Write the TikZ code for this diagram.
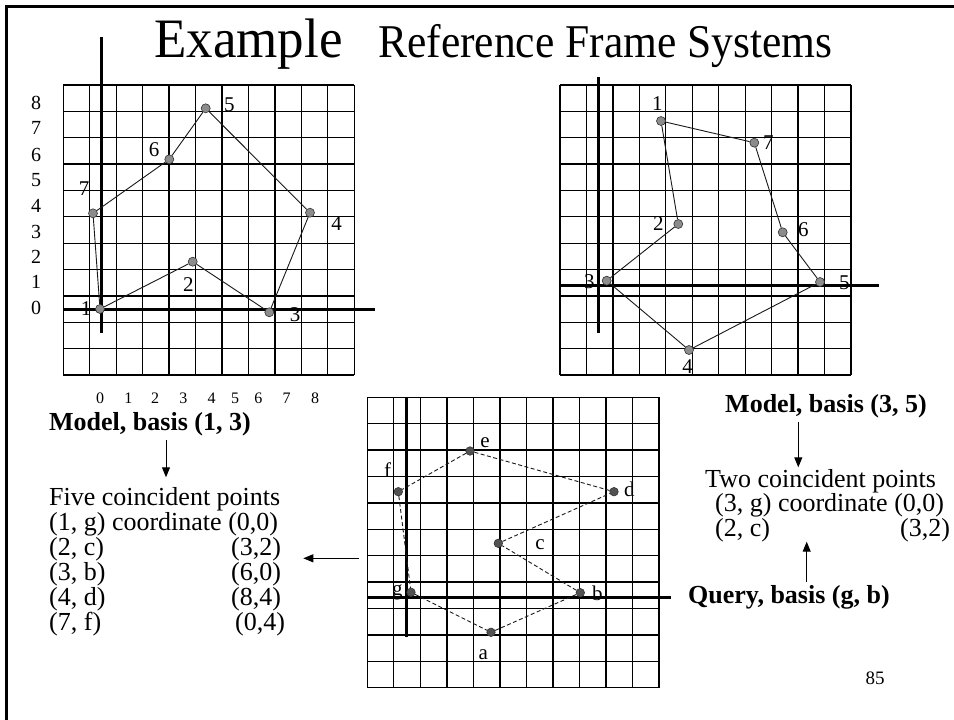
\documentclass[tikz,border=0pt]{standalone}
\usepackage{fontspec}
\setmainfont{Liberation Serif}
\usetikzlibrary{arrows.meta}
\begin{document}
\begin{tikzpicture}[x=1pt,y=-1pt,
  gridline/.style={black, line width=1.3pt},
  axisline/.style={black, line width=3pt},
  framebox/.style={black, line width=3pt},
  mpt/.style={circle, draw=black!80, fill=black!45, inner sep=0pt, minimum size=9pt, line width=0.6pt},
  qpt/.style={circle, draw=black!80, fill=black!68, inner sep=0pt, minimum size=8.5pt, line width=0.6pt},
  medge/.style={black!90, line width=0.9pt},
  qedge/.style={black!90, line width=0.9pt, dash pattern=on 4pt off 2.5pt},
  plbl/.style={font=\fontsize{21}{22}\selectfont, inner sep=0pt},
  ylbl/.style={font=\fontsize{20}{22}\selectfont, inner sep=0pt},
  xlbl/.style={font=\fontsize{16}{18}\selectfont, inner sep=0pt},
  txt/.style={font=\fontsize{26}{30}\selectfont, inner sep=0pt, anchor=base west},
  btxt/.style={font=\fontsize{26}{30}\selectfont\bfseries, inner sep=0pt, anchor=base west},
  arr/.style={black, line width=1pt, -{Triangle[length=10pt,width=8pt]}}]

\clip (0,0) rectangle (954,720);
\fill[white] (0,0) rectangle (954,720);

% frame
\draw[framebox] (6.5,730) -- (6.5,6.5) -- (960,6.5);

% title
\node[font=\fontsize{53}{60}\selectfont, inner sep=0pt, anchor=base west, yscale=1.05, transform shape] (t1) at (154,57) {Example};
\node[font=\fontsize{43.5}{50}\selectfont, inner sep=0pt, anchor=base west, yscale=1.08, transform shape] (t2) at (378,57) {Reference Frame Systems};

% ---------- grids ----------
\foreach \i in {0,...,11} {
  \draw[gridline] ({63.3+\i*26.45},85) -- ({63.3+\i*26.45},375);
  \draw[gridline] (63.3,{85+\i*26.36}) -- (354.3,{85+\i*26.36});
  \draw[gridline] ({560+\i*26.45},85) -- ({560+\i*26.45},375);
  \draw[gridline] (560,{85+\i*26.36}) -- (851,{85+\i*26.36});
  \draw[gridline] ({367.3+\i*26.52},397.3) -- ({367.3+\i*26.52},687.7);
  \draw[gridline] (367.3,{397.3+\i*26.4}) -- (659,{397.3+\i*26.4});
}

% axes
\draw[axisline] (101.7,37) -- (101.7,333);
\draw[axisline] (63,309) -- (375,309);
\draw[axisline] (598.3,77) -- (598.3,333);
\draw[axisline] (559.3,285) -- (879,285);
\draw[axisline] (406,397.3) -- (406,636.7);
\draw[axisline] (366.7,597.7) -- (670.7,597.7);

% axis numbers (model 1)
\foreach \v/\y in {8/102.7,7/128.3,6/155,5/180,4/206,3/231.7,2/256.7,1/281.7,0/308.3}
  \node[ylbl] (y\v) at (36,\y) {\v};
\foreach \v/\x in {0/100,1/128.3,2/155,3/183.3,4/211.7,5/235,6/258.3,7/286.7,8/315}
  \node[xlbl] (x\v) at (\x,398.3) {\v};

% ---------- model basis (1,3) ----------
\node[mpt] (p1) at (100,309) {};
\node[mpt] (p2) at (192.7,261.7) {};
\node[mpt] (p3) at (269.3,312.3) {};
\node[mpt] (p4) at (310,212.7) {};
\node[mpt] (p5) at (205.7,108.3) {};
\node[mpt] (p6) at (169.3,159.3) {};
\node[mpt] (p7) at (93,213.3) {};
\draw[medge] (p1) -- (p2);
\draw[medge] (p2) -- (p3);
\draw[medge] (p3) -- (p4);
\draw[medge] (p4) -- (p5);
\draw[medge] (p5) -- (p6);
\draw[medge] (p6) -- (p7);
\draw[medge] (p7) -- (p1);
\node[plbl] (lp1) at (86,308.3) {1};
\node[plbl] (lp2) at (188.3,284.3) {2};
\node[plbl] (lp3) at (295,315) {3};
\node[plbl] (lp4) at (336.7,223.3) {4};
\node[plbl] (lp5) at (229.3,105) {5};
\node[plbl] (lp6) at (154,150) {6};
\node[plbl] (lp7) at (84,188.3) {7};

% ---------- model basis (3,5) ----------
\node[mpt] (q1) at (661,121) {};
\node[mpt] (q2) at (678.3,224) {};
\node[mpt] (q3) at (606.7,280.7) {};
\node[mpt] (q4) at (689,350) {};
\node[mpt] (q5) at (820,282) {};
\node[mpt] (q6) at (782.7,232.3) {};
\node[mpt] (q7) at (754.3,142.7) {};
\draw[medge] (q1) -- (q2);
\draw[medge] (q2) -- (q3);
\draw[medge] (q3) -- (q4);
\draw[medge] (q4) -- (q5);
\draw[medge] (q5) -- (q6);
\draw[medge] (q6) -- (q7);
\draw[medge] (q7) -- (q1);
\node[plbl] (lq1) at (657.3,103.3) {1};
\node[plbl] (lq2) at (658.3,224) {2};
\node[plbl] (lq3) at (589.3,281.7) {3};
\node[plbl] (lq4) at (687.7,366.7) {4};
\node[plbl] (lq5) at (844.3,282.3) {5};
\node[plbl] (lq6) at (803.3,229.3) {6};
\node[plbl] (lq7) at (768.3,142.7) {7};

% ---------- query ----------
\node[qpt] (a) at (491,632.3) {};
\node[qpt] (b) at (580.3,592.7) {};
\node[qpt] (c) at (498.3,543.3) {};
\node[qpt] (d) at (614,491.7) {};
\node[qpt] (e) at (470,451) {};
\node[qpt] (f) at (398.3,491.7) {};
\node[qpt] (g) at (411,592.3) {};
\draw[qedge] (g) -- (a);
\draw[qedge] (a) -- (b);
\draw[qedge] (b) -- (c);
\draw[qedge] (c) -- (d);
\draw[qedge] (d) -- (e);
\draw[qedge] (e) -- (f);
\draw[qedge] (f) -- (g);
\node[plbl] (la) at (483.3,655) {a};
\node[plbl] (lb) at (597.3,593.3) {b};
\node[plbl] (lc) at (540,545) {c};
\node[plbl] (ld) at (629.3,489.3) {d};
\node[plbl] (le) at (485,442.7) {e};
\node[plbl] (lf) at (387.7,470) {f};
\node[plbl] (lg) at (397.3,592.7) {g};

% ---------- left text ----------
\node[btxt] (m13) at (49,430) {Model, basis (1, 3)};
\node[txt] (five) at (49,505) {Five coincident points};
\node[txt] (r1) at (49,530) {(1, g) coordinate (0,0)};
\node[txt] (r2) at (49,555) {(2, c)};
\node[txt] (r2v) at (231,555) {(3,2)};
\node[txt] (r3) at (49,580) {(3, b)};
\node[txt] (r3v) at (231,580) {(6,0)};
\node[txt] (r4) at (49,605) {(4, d)};
\node[txt] (r4v) at (231,605) {(8,4)};
\node[txt] (r5) at (49,630) {(7, f)};
\node[txt] (r5v) at (235,630) {(0,4)};

% ---------- right text ----------
\node[btxt] (m35) at (725,412.7) {Model, basis (3, 5)};
\node[txt] (two) at (705,487.3) {Two coincident points};
\node[txt] (s1) at (715,511.7) {(3, g) coordinate (0,0)};
\node[txt] (s2) at (715,536.7) {(2, c)};
\node[txt] (s2v) at (900,536.7) {(3,2)};
\node[btxt] (qry) at (688,603.3) {Query, basis (g, b)};
\node[font=\fontsize{19}{20}\selectfont, inner sep=0pt, anchor=base] (pg) at (875,684.3) {85};

% ---------- arrows ----------
\coordinate (a1s) at (166,440);
\coordinate (a1e) at (166,477.3);
\draw[arr] (a1s) -- (a1e);
\coordinate (a2s) at (359,558.3);
\coordinate (a2e) at (303.3,558.3);
\draw[arr] (a2s) -- (a2e);
\coordinate (a3s) at (798.3,421.7);
\coordinate (a3e) at (798.3,467.3);
\draw[arr] (a3s) -- (a3e);
\coordinate (a4s) at (806.7,581.7);
\coordinate (a4e) at (806.7,541.7);
\draw[arr] (a4s) -- (a4e);
\end{tikzpicture}
\end{document}
